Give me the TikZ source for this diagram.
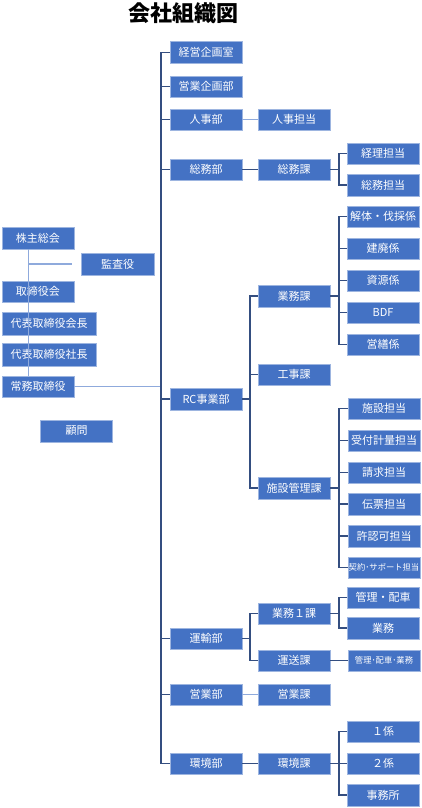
\documentclass[tikz,border=0pt]{standalone}
\usepackage{fontspec}
\setmainfont{Noto Sans CJK JP}
\definecolor{boxblue}{HTML}{4472C4}
\definecolor{boxedge}{HTML}{9DB5E0}
\definecolor{darkline}{RGB}{52,78,128}
\definecolor{lightline}{HTML}{8FAADC}
\begin{document}
\begin{tikzpicture}[x=1pt,y=-1pt,
  box/.style={fill=boxblue,draw=boxedge,line width=0.5pt,text=white,inner sep=0pt,
    minimum width=72pt,minimum height=21.5pt,font=\fontsize{11}{11}\selectfont},
  small/.style={font=\fontsize{8.3}{8.3}\selectfont},
  dk/.style={draw=darkline,line width=1.1pt},
  lt/.style={draw=lightline,line width=1.3pt}]
\useasboundingbox (0,0) rectangle (422,808);
\node (title) at (183,13) {\fontsize{22}{22}\selectfont\bfseries 会社組織図};
% column 2
\node[box] (keiei) at (206,52.5) {経営企画室};
\node[box] (eikikaku) at (206,86.5) {営業企画部};
\node[box] (jinjibu) at (206,119.5) {人事部};
\node[box] (somubu) at (206,169.5) {総務部};
\node[box] (rc) at (206,399) {RC事業部};
\node[box] (unyu) at (206,638.5) {運輸部};
\node[box] (eigyobu) at (206,694.5) {営業部};
\node[box] (kankyobu) at (206,763.5) {環境部};
% column 3
\node[box] (jinjitanto) at (294,119.5) {人事担当};
\node[box] (somuka) at (294,169.5) {総務課};
\node[box] (gyomuka) at (294,296) {業務課};
\node[box] (kojika) at (294,374.5) {工事課};
\node[box] (shisetsuka) at (294,488) {施設管理課};
\node[box] (gyomu1) at (294,613.5) {業務１課};
\node[box] (unsoka) at (294,660.5) {運送課};
\node[box] (eigyoka) at (294,694.5) {営業課};
\node[box] (kankyoka) at (294,763.5) {環境課};
% column 4
\node[box] (keiri) at (383,153.5) {経理担当};
\node[box] (somutanto) at (383,185) {総務担当};
\node[box] (kaitai) at (383,216.5) {解体・伐採係};
\node[box] (kenpai) at (383,248.5) {建廃係};
\node[box] (shigen) at (383,280.5) {資源係};
\node[box] (bdf) at (383,312.5) {BDF};
\node[box] (eizen) at (383,344.5) {営繕係};
\node[box] (shisetsu) at (384,408.5) {施設担当};
\node[box] (uketsuke) at (384,440.5) {受付計量担当};
\node[box] (seikyu) at (384,472.5) {請求担当};
\node[box] (denpyo) at (384,504) {伝票担当};
\node[box] (kyoninka) at (384,536) {許認可担当};
\node[box,small] (keiyaku) at (384,567.5) {契約･サポート担当};
\node[box] (kanri) at (383,597.5) {管理・配車};
\node[box] (gyomu) at (383,628) {業務};
\node[box,small] (kanrigyomu) at (384,660.5) {管理･配車･業務};
\node[box] (ichi) at (383,731.5) {１係};
\node[box] (ni) at (383,763.5) {２係};
\node[box] (jimusho) at (383,795) {事務所};
% left
\node[box] (kabunushi) at (38,238) {株主総会};
\node[box,minimum width=73pt] (kansa) at (117.5,264) {監査役};
\node[box] (torishimari) at (38,291.5) {取締役会};
\node[box,minimum width=94pt,minimum height=23pt] (kaicho) at (49,323.5) {代表取締役会長};
\node[box,minimum width=94pt,minimum height=23pt] (shacho) at (49,354.5) {代表取締役社長};
\node[box] (jomu) at (38,386.5) {常務取締役};
\node[box] (komon) at (76.5,431) {顧問};
% coordinates for trunks
\coordinate (spine) at (161,0);
\coordinate (b3) at (250,0);
\coordinate (b4) at (339,0);
\coordinate (lspine) at (28.5,0);
\coordinate (kansaend) at (72,264);
% left connectors
\draw[lt] (kabunushi.south -| lspine) -- (jomu.north -| lspine);
\draw[lt] (kansaend -| lspine) -- (kansaend);
\draw[lt] (jomu.east) -- (jomu.east -| spine);
% main spine
\draw[dk] (keiei.west) -- (keiei.west -| spine) -- (kankyobu.west -| spine) -- (kankyobu.west);
\foreach \n in {eikikaku,jinjibu,somubu,rc,unyu,eigyobu}
  \draw[dk] (\n.west) -- (\n.west -| spine);
% col2 -> col3
\draw[lt] (jinjibu) -- (jinjitanto);
\draw[dk] (somubu) -- (somuka);
\draw[lt] (eigyobu) -- (eigyoka);
\draw[dk] (kankyobu) -- (kankyoka);
\draw[dk] (rc.east) -- (rc.east -| b3);
\draw[dk] (gyomuka.west) -- (gyomuka.west -| b3) -- (shisetsuka.west -| b3) -- (shisetsuka.west);
\draw[dk] (kojika.west) -- (kojika.west -| b3);
\draw[dk] (unyu.east) -- (unyu.east -| b3);
\draw[dk] (gyomu1.west) -- (gyomu1.west -| b3) -- (unsoka.west -| b3) -- (unsoka.west);
% col3 -> col4
\draw[dk] (unsoka) -- (kanrigyomu);
\draw[dk] (somuka.east) -- (somuka.east -| b4);
\draw[dk] (keiri.west) -- (keiri.west -| b4) -- (somutanto.west -| b4) -- (somutanto.west);
\draw[dk] (gyomuka.east) -- (gyomuka.east -| b4);
\draw[dk] (kaitai.west) -- (kaitai.west -| b4) -- (eizen.west -| b4) -- (eizen.west);
\foreach \n in {kenpai,shigen,bdf} \draw[dk] (\n.west) -- (\n.west -| b4);
\draw[dk] (shisetsuka.east) -- (shisetsuka.east -| b4);
\draw[dk] (shisetsu.west) -- (shisetsu.west -| b4) -- (keiyaku.west -| b4) -- (keiyaku.west);
\foreach \n in {uketsuke,seikyu,denpyo,kyoninka} \draw[dk] (\n.west) -- (\n.west -| b4);
\draw[dk] (gyomu1.east) -- (gyomu1.east -| b4);
\draw[dk] (kanri.west) -- (kanri.west -| b4) -- (gyomu.west -| b4) -- (gyomu.west);
\draw[dk] (kankyoka.east) -- (kankyoka.east -| b4);
\draw[dk] (ichi.west) -- (ichi.west -| b4) -- (jimusho.west -| b4) -- (jimusho.west);
\draw[dk] (ni.west) -- (ni.west -| b4);
\end{tikzpicture}
\end{document}
